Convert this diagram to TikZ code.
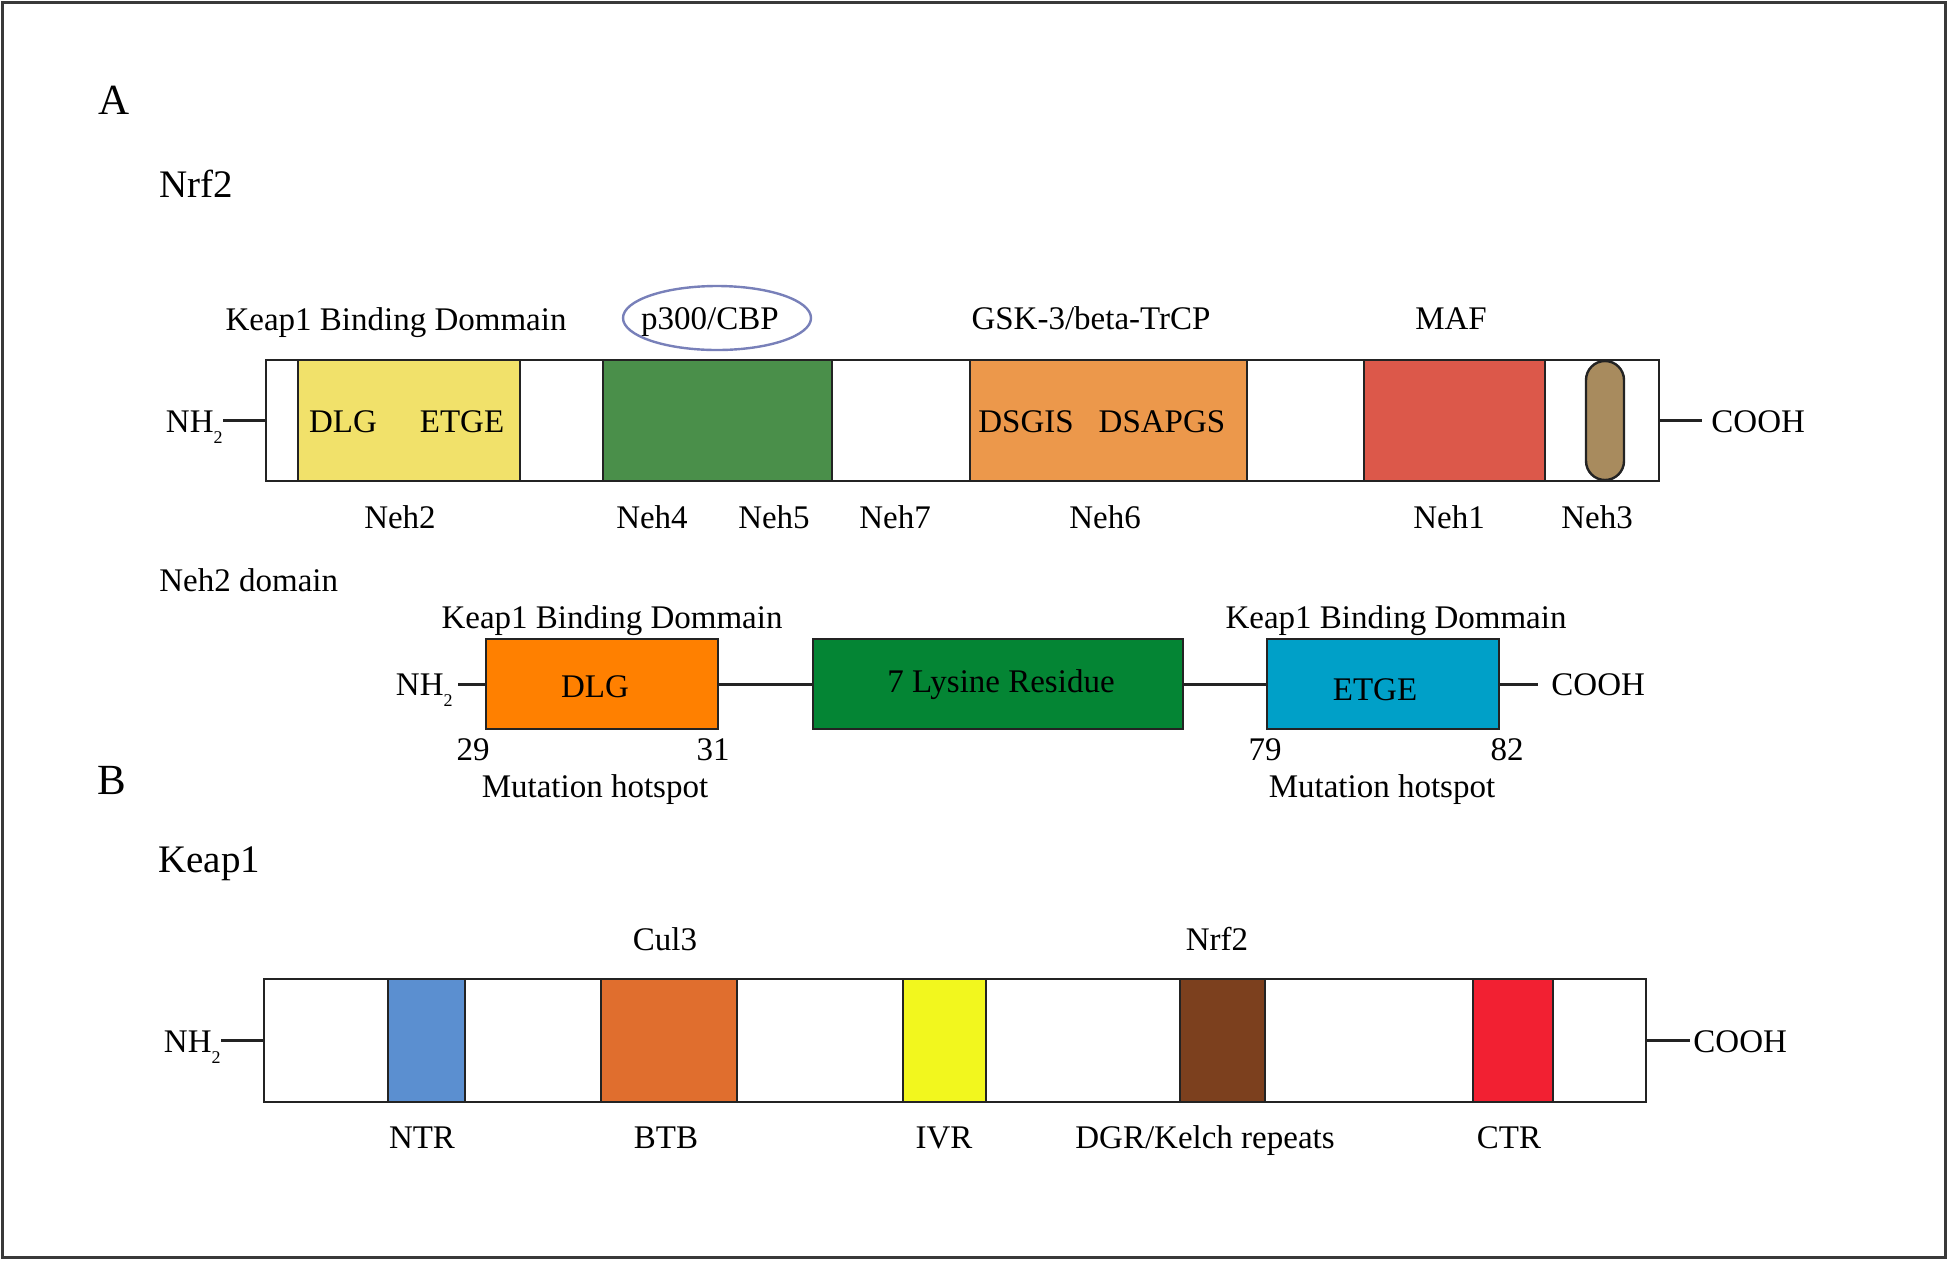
\documentclass[tikz,border=0pt]{standalone}
\usepackage{fontspec}
\setmainfont{Liberation Serif}
\usetikzlibrary{fit,shapes.geometric}
\definecolor{cYel}{RGB}{241,225,106}
\definecolor{cGrn}{RGB}{74,143,74}
\definecolor{cOra}{RGB}{236,152,75}
\definecolor{cRed}{RGB}{220,88,74}
\definecolor{cPill}{RGB}{168,139,94}
\definecolor{cEll}{RGB}{120,128,185}
\definecolor{cDlg}{RGB}{255,128,0}
\definecolor{cLys}{RGB}{4,133,52}
\definecolor{cEtge}{RGB}{0,160,200}
\definecolor{cNtr}{RGB}{91,143,208}
\definecolor{cBtb}{RGB}{224,110,46}
\definecolor{cIvr}{RGB}{242,247,30}
\definecolor{cDgr}{RGB}{124,64,30}
\definecolor{cCtr}{RGB}{242,32,50}
\definecolor{cLine}{RGB}{35,35,35}
\newcommand{\subtwo}{\raisebox{-5.5pt}{\fontsize{9}{9}\selectfont 2}}
\begin{document}
\begin{tikzpicture}[x=0.5pt,y=-0.5pt,
  lbl/.style={inner sep=0pt, anchor=base, font=\fontsize{16.5}{18}\selectfont},
  big/.style={inner sep=0pt, anchor=base, font=\fontsize{21.5}{24}\selectfont},
  title/.style={inner sep=0pt, anchor=base west, font=\fontsize{19.5}{22}\selectfont},
  box/.style={draw=cLine, line width=1.2pt, inner sep=0pt},
  conn/.style={draw=cLine, line width=1.5pt}]
\useasboundingbox (0,0) rectangle (1948,1260);
\draw[line width=1.5pt, draw=cLine!90] (2.5,2.5) rectangle (1945.5,1257);

% ---------- A : Nrf2 ----------
\node[big] (labA) at (114,114) {A};
\node[title] (nrf2t) at (159,197) {Nrf2};

\node[box, fit={(266,360) (1659,481)}] (nrfbar) {};
\node[box, fill=cYel, fit={(298,360) (520,481)}] (neh2box) {};
\node[box, fill=cGrn, fit={(603,360) (832,481)}] (neh45box) {};
\node[box, fill=cOra, fit={(970,360) (1247,481)}] (neh6box) {};
\node[box, fill=cRed, fit={(1364,360) (1545,481)}] (neh1box) {};
\node[box, fill=cPill, rounded corners=9.5pt, fit={(1586,361) (1624,480)}] (neh3box) {};

\node[lbl] (kbd1) at (396,330) {Keap1 Binding Dommain};
\node[lbl] (p300) at (710,329) {p300/CBP};
\node[draw=cEll, line width=1.2pt, ellipse, minimum width=94pt, minimum height=32pt, inner sep=0pt] (p300ell) at (717,318) {};
\node[lbl] (gsk) at (1091,329) {GSK-3/beta-TrCP};
\node[lbl] (maf) at (1451,329) {MAF};

\node[lbl, anchor=base east] (nh2a) at (223,432) {NH\subtwo};
\node[lbl, anchor=base west, inner xsep=4.5pt] (cooha) at (1702,432) {COOH};
\draw[conn] (nh2a.east |- nrfbar.west) -- (nrfbar.west);
\draw[conn] (nrfbar.east) -- (cooha.west |- nrfbar.east);

\node[lbl] (dlga) at (343,432) {DLG};
\node[lbl] (etgea) at (462,432) {ETGE};
\node[lbl] (dsgis) at (1026,432) {DSGIS};
\node[lbl] (dsapgs) at (1162,432) {DSAPGS};

\node[lbl] (neh2) at (400,528) {Neh2};
\node[lbl] (neh4) at (652,528) {Neh4};
\node[lbl] (neh5) at (774,528) {Neh5};
\node[lbl] (neh7) at (895,528) {Neh7};
\node[lbl] (neh6) at (1105,528) {Neh6};
\node[lbl] (neh1) at (1449,528) {Neh1};
\node[lbl] (neh3) at (1597,528) {Neh3};

% ---------- Neh2 domain ----------
\node[lbl, anchor=base west] (neh2dom) at (159,591) {Neh2 domain};
\node[lbl] (kbd2) at (612,628) {Keap1 Binding Dommain};
\node[lbl] (kbd3) at (1396,628) {Keap1 Binding Dommain};

\node[box, fill=cDlg, fit={(486,639) (718,729)}] (dlgbox) {};
\node[box, fill=cLys, fit={(813,639) (1183,729)}] (lysbox) {};
\node[box, fill=cEtge, fit={(1267,639) (1499,729)}] (etgebox) {};

\node[lbl] (dlgb) at (595,697) {DLG};
\node[lbl] (lys) at (1001,692) {7 Lysine Residue};
\node[lbl] (etgeb) at (1375,700) {ETGE};

\node[lbl, anchor=base east, inner xsep=2.5pt] (nh2b) at (458,695) {NH\subtwo};
\node[lbl, anchor=base west, inner xsep=6.5pt] (coohb) at (1538,695) {COOH};
\draw[conn] (nh2b.east |- dlgbox.west) -- (dlgbox.west);
\draw[conn] (dlgbox.east) -- (lysbox.west);
\draw[conn] (lysbox.east) -- (etgebox.west);
\draw[conn] (etgebox.east) -- (coohb.west |- etgebox.east);

\node[lbl] (n29) at (473,760) {29};
\node[lbl] (n31) at (713,760) {31};
\node[lbl] (n79) at (1265,760) {79};
\node[lbl] (n82) at (1507,760) {82};
\node[lbl] (mh1) at (595,797) {Mutation hotspot};
\node[lbl] (mh2) at (1382,797) {Mutation hotspot};

% ---------- B : Keap1 ----------
\node[big] (labB) at (112,794) {B};
\node[title] (keap1t) at (158,872) {Keap1};

\node[box, fit={(264,979) (1646,1102)}] (kbar) {};
\node[box, fill=cNtr, fit={(388,979) (465,1102)}] (ntrbox) {};
\node[box, fill=cBtb, fit={(601,979) (737,1102)}] (btbbox) {};
\node[box, fill=cIvr, fit={(903,979) (986,1102)}] (ivrbox) {};
\node[box, fill=cDgr, fit={(1180,979) (1265,1102)}] (dgrbox) {};
\node[box, fill=cCtr, fit={(1473,979) (1553,1102)}] (ctrbox) {};

\node[lbl] (cul3) at (665,950) {Cul3};
\node[lbl] (nrf2k) at (1217,950) {Nrf2};

\node[lbl] (ntr) at (422,1148) {NTR};
\node[lbl] (btb) at (666,1148) {BTB};
\node[lbl] (ivr) at (944,1148) {IVR};
\node[lbl] (dgr) at (1205,1148) {DGR/Kelch repeats};
\node[lbl] (ctr) at (1509,1148) {CTR};

\node[lbl, anchor=base east] (nh2c) at (221,1052) {NH\subtwo};
\node[lbl, anchor=base west, inner xsep=1.5pt] (coohc) at (1690,1052) {COOH};
\draw[conn] (nh2c.east |- kbar.west) -- (kbar.west);
\draw[conn] (kbar.east) -- (coohc.west |- kbar.east);
\end{tikzpicture}
\end{document}
